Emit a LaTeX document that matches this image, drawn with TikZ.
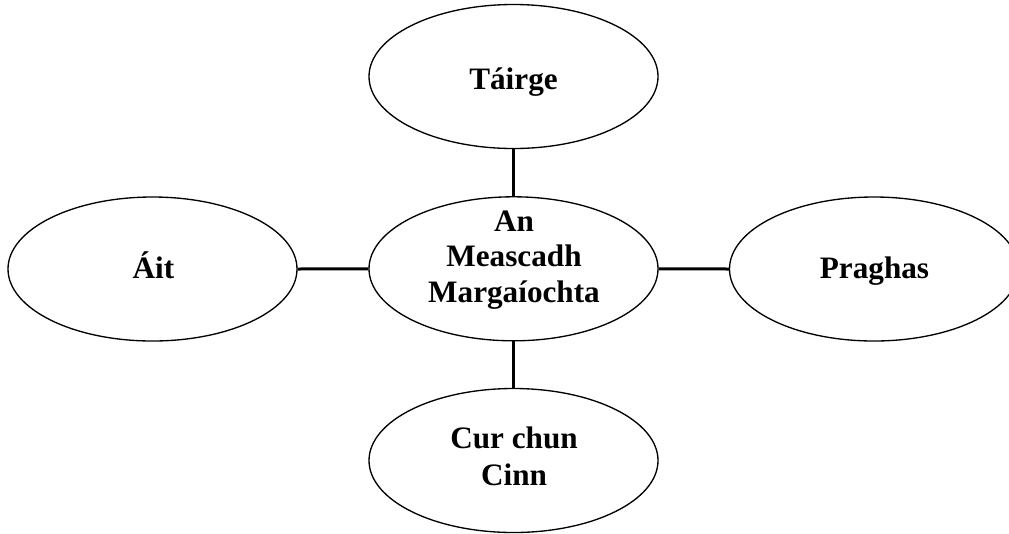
\documentclass[tikz,border=0pt]{standalone}
\usepackage{fontspec}
\setmainfont{Liberation Serif}
\usetikzlibrary{shapes.geometric}
\begin{document}
\begin{tikzpicture}[x=0.75pt,y=-0.75pt,
  bubble/.style={draw=black,line width=1pt,ellipse,minimum width=216.75pt,minimum height=108pt,inner sep=0pt},
  txt/.style={anchor=base,inner sep=0pt,font=\fontsize{23.4}{27}\selectfont\bfseries},
  link/.style={draw=black,line width=2.25pt}]
\useasboundingbox (0,0) rectangle (1009,533);
\node[bubble] (T) at (513.5,76.5) {};
\node[bubble] (C) at (513.5,268.8) {};
\node[bubble] (L) at (152.5,269) {};
\node[bubble] (R) at (874,269) {};
\node[bubble] (B) at (513.5,460.5) {};
\draw[link] (T.south) -- (C.north);
\draw[link] (C.south) -- (B.north);
\draw[link] (L.east) -- (C.west);
\draw[link] (C.east) -- (R.west);
\node[txt] (t1) at (513.5,89) {Táirge};
\node[txt] (l1) at (153.5,278.3) {Áit};
\node[txt] (r1) at (874.5,278.3) {Praghas};
\node[txt] (c1) at (514,231) {An};
\node[txt] (c2) at (514,266.7) {Meascadh};
\node[txt] (c3) at (514,302) {Margaíochta};
\node[txt] (b1) at (514,448.3) {Cur chun};
\node[txt] (b2) at (514,485.7) {Cinn};
\end{tikzpicture}
\end{document}
